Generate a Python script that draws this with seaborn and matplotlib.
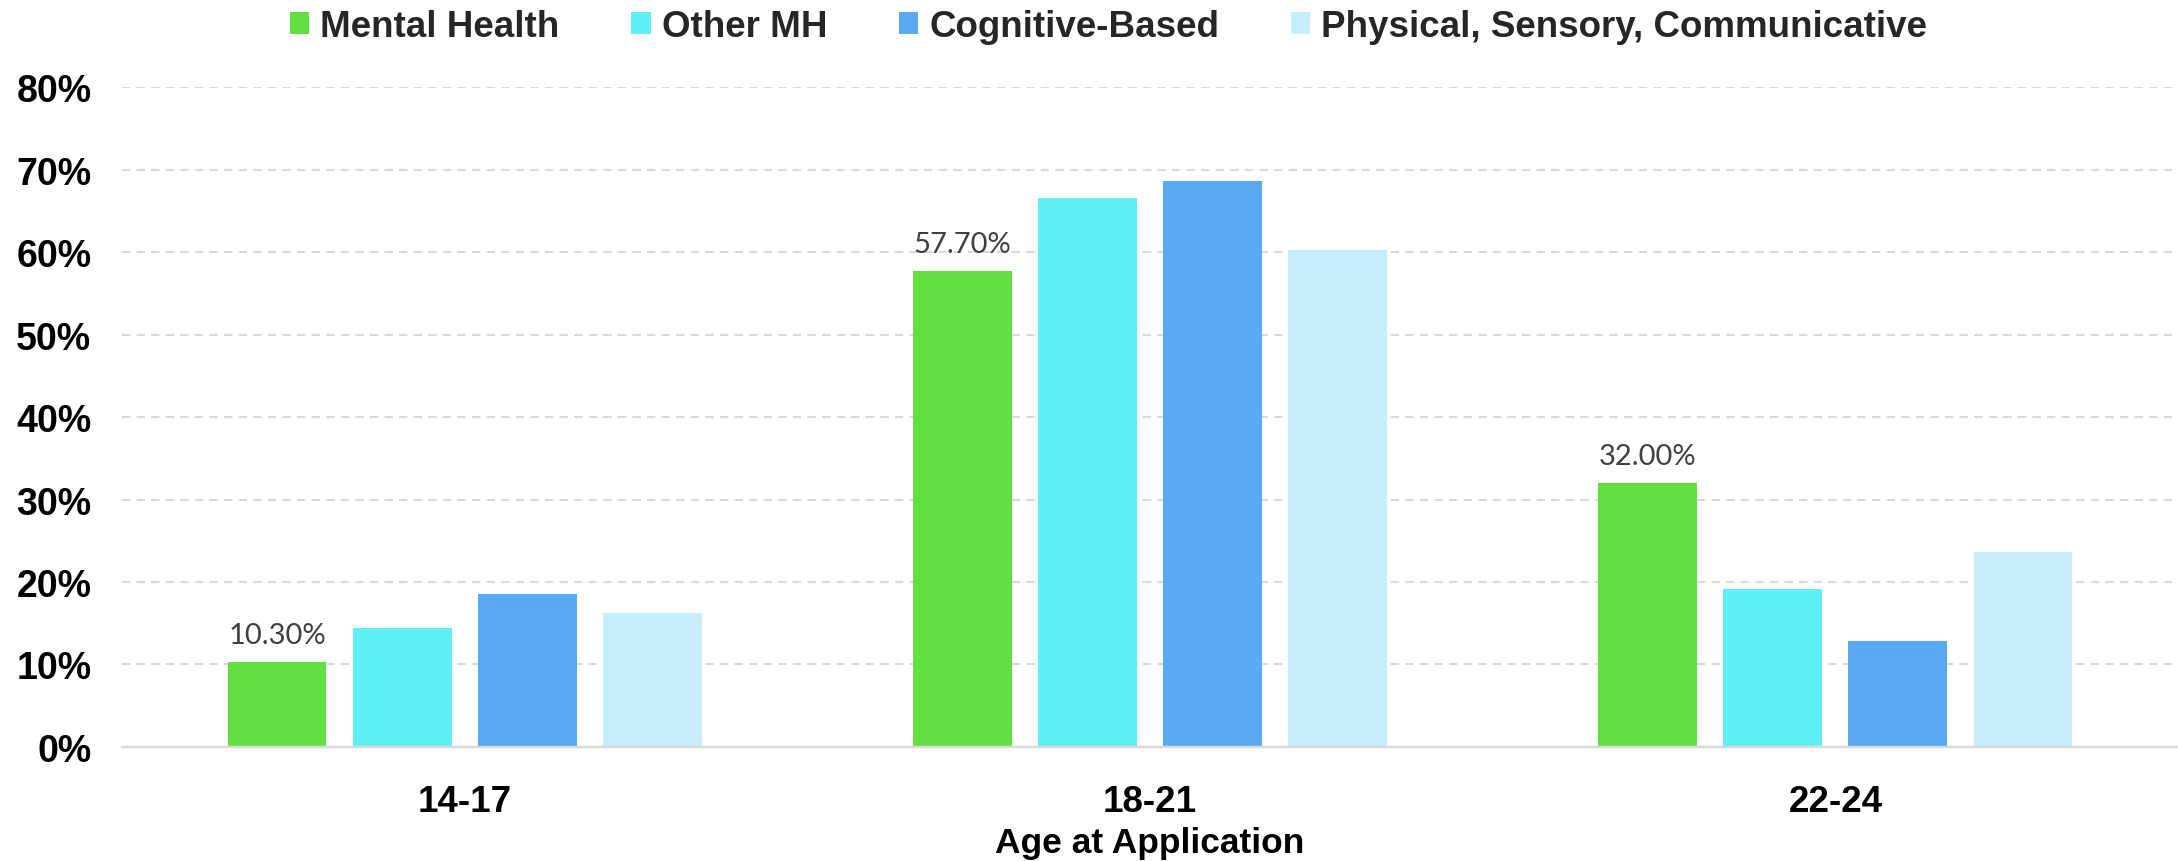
import matplotlib
matplotlib.use("Agg")
import matplotlib.pyplot as plt
import seaborn as sns
import pandas as pd

# Share of applicants by age group and disability category (%)
age_groups = ["14-17", "18-21", "22-24"]
categories = ["Mental Health", "Other MH", "Cognitive-Based", "Physical, Sensory, Communicative"]
mental_health = [10.3, 57.7, 32.0]
other_mh = [14.4, 66.5, 19.1]
cognitive_based = [18.6, 68.6, 12.8]
physical_sensory = [16.2, 60.2, 23.6]
colors = ["#62e03f", "#5ff0f6", "#5aa9f2", "#c6eefd"]

series = [mental_health, other_mh, cognitive_based, physical_sensory]
df = pd.DataFrame(
    [(age, cat, vals[i]) for cat, vals in zip(categories, series) for i, age in enumerate(age_groups)],
    columns=["age", "category", "value"],
)

sns.set_theme(style="white")
plt.rcParams["font.family"] = ["Liberation Sans", "DejaVu Sans"]

fig = plt.figure(figsize=(21.78, 8.62), dpi=100)
ax = fig.add_axes([0.056, 0.1323, 0.944, 0.7655])

sns.barplot(
    data=df, x="age", y="value", hue="category",
    order=age_groups, hue_order=categories,
    palette=colors, width=0.73, gap=0.21, saturation=1,
    edgecolor="none", ax=ax,
)

ax.set_ylim(0, 80)
ax.set_xlim(-0.5, 2.5)
ax.set_yticks(range(0, 81, 10))
ax.set_yticklabels([f"{v}%" for v in range(0, 81, 10)],
                   fontsize=27, fontweight="bold", color="black")
ax.set_xticks(range(len(age_groups)))
ax.set_xticklabels(age_groups, fontsize=26.5, fontweight="bold", color="black")
ax.tick_params(axis="y", length=0, pad=22)
ax.tick_params(axis="x", length=0, pad=27)
ax.set_ylabel("")
ax.set_xlabel("Age at Application", fontsize=25.5, fontweight="bold",
              color="black", labelpad=5)

ax.yaxis.grid(True, color="#d9d9d9", linewidth=1.5, linestyle=(0, (4, 3)))
ax.set_axisbelow(True)
for side in ["top", "right", "left"]:
    ax.spines[side].set_visible(False)
ax.spines["bottom"].set_color("#d9d9d9")
ax.spines["bottom"].set_linewidth(1.75)

# Value labels on the Mental Health bars
ax.bar_label(ax.containers[0], labels=[f"{v:.2f}%" for v in mental_health],
             padding=10, fontsize=21, color="#404040", family=["Lato", "DejaVu Sans"])

handles, labels = ax.get_legend_handles_labels()
ax.get_legend().remove()
leg = fig.legend(
    handles, labels, loc="center", bbox_to_anchor=(0.509, 0.968), ncol=4,
    frameon=False, handlelength=0.52, handleheight=0.54, handletextpad=0.3,
    columnspacing=1.95, prop={"size": 26.5, "weight": "bold"},
)

fig.savefig("out.png", dpi=100)
